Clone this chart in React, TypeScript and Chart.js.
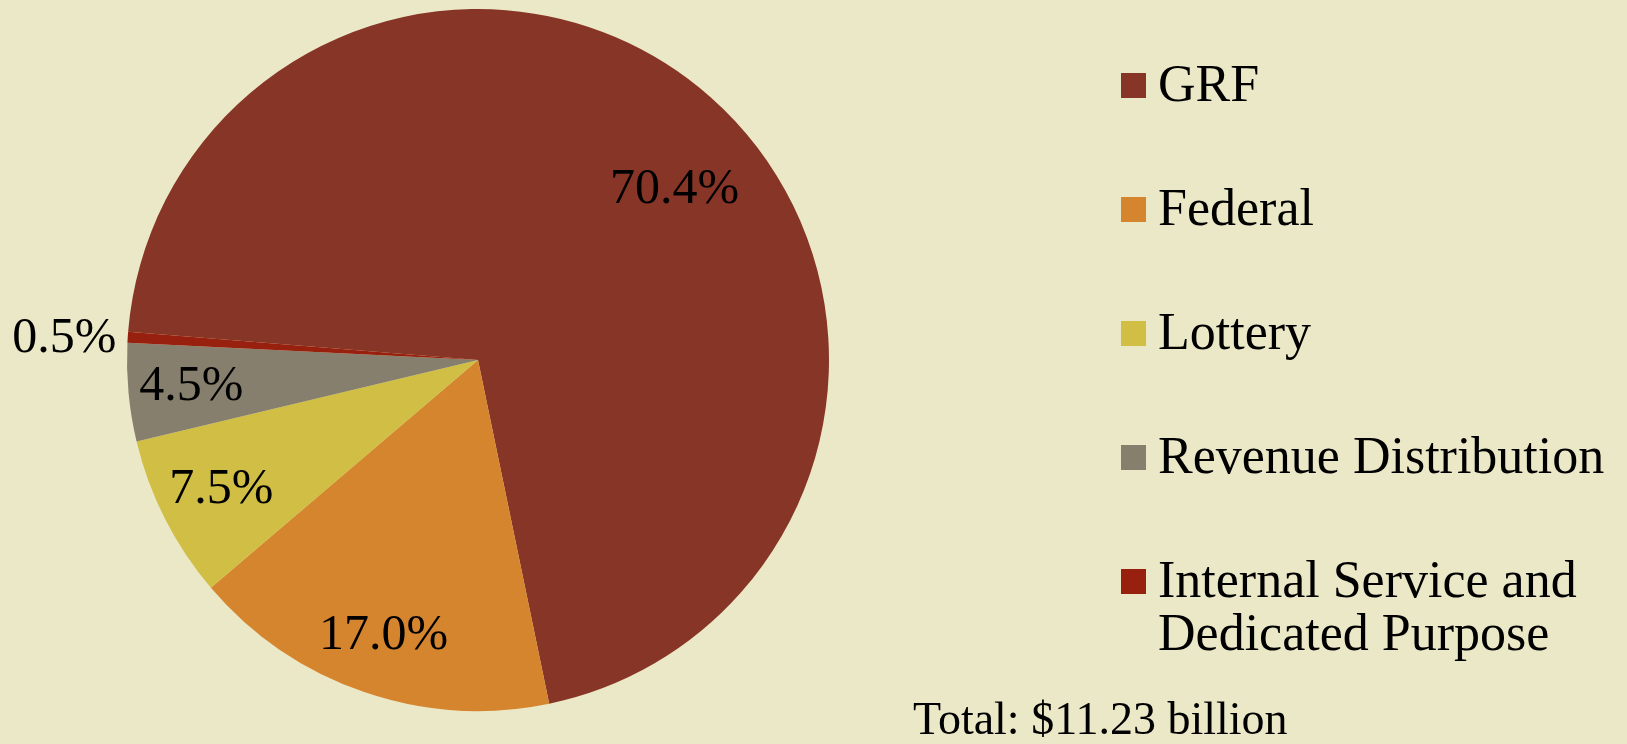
import React, { useEffect, useRef } from "react";
import { Chart, registerables } from "chart.js";

Chart.register(...registerables);

// ---- Data ----
const categories = [
  "GRF",
  "Federal",
  "Lottery",
  "Revenue Distribution",
  "Internal Service and Dedicated Purpose",
];
const legendLines = [
  ["GRF"],
  ["Federal"],
  ["Lottery"],
  ["Revenue Distribution"],
  ["Internal Service and", "Dedicated Purpose"],
];
const shares = [70.4, 17.0, 7.5, 4.5, 0.5];
const shareLabels = ["70.4%", "17.0%", "7.5%", "4.5%", "0.5%"];
const colors = ["#873526", "#D6852F", "#D1BE44", "#877F6D", "#97200E"];
const totalLabel = "Total: $11.23 billion";

// ---- Styling / layout ----
const BG = "#EBE8C7";
const W = 1627;
const H = 744;
const FONT = '"Liberation Serif", "DejaVu Serif", serif';
const labelRadiusFrac = [0.74, 0.83, 0.82, 0.82, 1.18];
const labelAngleShiftDeg = [7.7, 0, 0, 0, -0.8];
const legendX = 1121;
const legendTop = 73;
const legendStep = 124;
const legendBox = 25;
const legendTextGap = 12;
const legendLineH = 53;

const overlayPlugin = {
  id: "overlay",
  beforeDraw(chart: any) {
    const ctx = chart.ctx;
    ctx.save();
    ctx.fillStyle = BG;
    ctx.fillRect(0, 0, chart.width, chart.height);
    ctx.restore();
  },
  afterDraw(chart: any) {
    const ctx = chart.ctx;
    const meta = chart.getDatasetMeta(0);
    ctx.save();
    // slice labels
    ctx.fillStyle = "#000";
    ctx.font = `50px ${FONT}`;
    ctx.textAlign = "center";
    ctx.textBaseline = "middle";
    meta.data.forEach((arc: any, i: number) => {
      const p = arc.getProps(["x", "y", "startAngle", "endAngle", "outerRadius"], true);
      const a = (p.startAngle + p.endAngle) / 2 + (labelAngleShiftDeg[i] * Math.PI) / 180;
      const r = p.outerRadius * labelRadiusFrac[i];
      ctx.fillText(shareLabels[i], p.x + Math.cos(a) * r, p.y + Math.sin(a) * r);
    });
    // legend
    ctx.textAlign = "left";
    ctx.textBaseline = "alphabetic";
    ctx.font = `52px ${FONT}`;
    legendLines.forEach((lines, i) => {
      const top = legendTop + i * legendStep;
      ctx.fillStyle = colors[i];
      ctx.fillRect(legendX, top, legendBox, legendBox);
      ctx.fillStyle = "#000";
      lines.forEach((ln, j) => {
        ctx.fillText(ln, legendX + legendBox + legendTextGap, top + 28 + j * legendLineH);
      });
    });
    // total
    ctx.font = `46px ${FONT}`;
    ctx.fillText(totalLabel, 913, 734);
    ctx.restore();
  },
};

export default function App() {
  const ref = useRef<HTMLCanvasElement | null>(null);
  useEffect(() => {
    document.body.style.margin = "0";
    const chart = new Chart(ref.current as HTMLCanvasElement, {
      type: "pie",
      data: {
        labels: categories,
        datasets: [
          {
            data: shares,
            backgroundColor: colors,
            borderWidth: 0,
          },
        ],
      },
      options: {
        animation: false,
        responsive: false,
        rotation: -85.4,
        layout: { padding: { left: 127, right: W - 829, top: 9, bottom: 33 } },
        plugins: {
          legend: { display: false },
          tooltip: { enabled: false },
        },
      },
      plugins: [overlayPlugin],
    });
    return () => chart.destroy();
  }, []);
  return (
    <div style={{ position: "fixed", left: 0, top: 0, width: W, height: H, background: BG }}>
      <canvas ref={ref} width={W} height={H} style={{ width: W, height: H, display: "block" }} />
    </div>
  );
}
